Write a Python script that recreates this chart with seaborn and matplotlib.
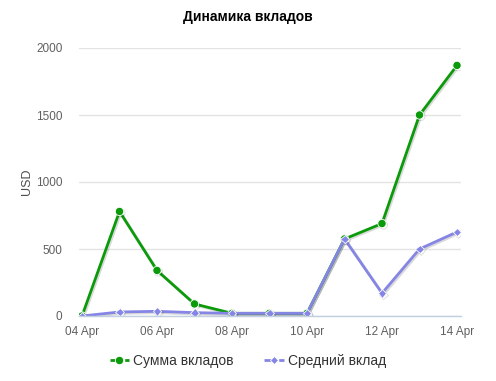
import numpy as np
import pandas as pd
import matplotlib
matplotlib.use('Agg')
import matplotlib.pyplot as plt
import matplotlib.dates as mdates
import matplotlib.patheffects as pe
from matplotlib.lines import Line2D
import seaborn as sns

# data
dates = ['2015-04-04', '2015-04-05', '2015-04-06', '2015-04-07', '2015-04-08',
         '2015-04-09', '2015-04-10', '2015-04-11', '2015-04-12', '2015-04-13',
         '2015-04-14']
total_deposits = [0, 780, 340, 90, 20, 20, 20, 575, 690, 1500, 1870]
avg_deposit = [0, 30, 35, 25, 20, 20, 20, 575, 170, 500, 627]
series_names = ['Сумма вкладов', 'Средний вклад']
series_colors = ['#0a9a0a', '#8585e6']
series_markers = ['o', 'D']
marker_sizes = [6, 4.5]
y_ticks = [0, 500, 1000, 1500, 2000]

df = pd.DataFrame({
    'date': pd.to_datetime(dates * 2),
    'value': total_deposits + avg_deposit,
    'series': [series_names[0]] * len(dates) + [series_names[1]] * len(dates),
})

sns.set_theme(style='white')
plt.rcParams['font.family'] = ['Liberation Sans', 'DejaVu Sans']

fig = plt.figure(figsize=(4.96, 3.81), dpi=100)
ax = fig.add_axes([79 / 496, 1 - 316 / 381, (461 - 79) / 496, (316 - 48) / 381])

shadow = [pe.SimpleLineShadow(offset=(1, -1), alpha=0.15, shadow_color='black'), pe.Normal()]
for name, color, marker, ms in zip(series_names, series_colors, series_markers, marker_sizes):
    sub = df[df['series'] == name]
    sns.lineplot(data=sub, x='date', y='value', ax=ax, color=color, linewidth=2,
                 marker=marker, markersize=ms,
                 markeredgecolor='white', markeredgewidth=0.6,
                 path_effects=shadow, legend=False)

d0 = mdates.date2num(pd.to_datetime(dates[0]))
d1 = mdates.date2num(pd.to_datetime(dates[-1]))
ax.set_xlim(d0 - 3 / 37.5, d1 + 4 / 37.5)
ax.set_ylim(0, 2000)
ax.set_yticks(y_ticks)
ax.set_yticklabels([str(t) for t in y_ticks])
ax.set_xticks(pd.to_datetime(dates[::2]))
ax.xaxis.set_major_formatter(mdates.DateFormatter('%d %b'))

ax.grid(axis='y', color='#e3e3e3', linewidth=1)
ax.grid(axis='x', visible=False)
for side in ['top', 'right', 'left']:
    ax.spines[side].set_visible(False)
ax.spines['bottom'].set_color('#c0d0e0')
ax.spines['bottom'].set_linewidth(1)
ax.tick_params(axis='x', colors='#606060', labelsize=8.5, length=6, width=1,
               direction='out', pad=1, color='#c0d0e0')
ax.tick_params(axis='y', colors='#606060', labelsize=8.5, length=0, pad=12)
for lbl in ax.get_xticklabels() + ax.get_yticklabels():
    lbl.set_color('#606060')

ax.set_xlabel('')
ax.set_ylabel('USD', color='#4d4d4d', fontsize=9)
ax.yaxis.set_label_coords(-0.12, 0.5)

fig.text(248 / 496, 1 - 17 / 381, 'Динамика вкладов', ha='center', va='center',
         fontsize=10, fontweight='bold', color='black')

handles = [Line2D([], [], color=c, linestyle='--', linewidth=2, marker=m,
                  markersize=ms, markeredgecolor='white', markeredgewidth=0.6)
           for c, m, ms in zip(series_colors, series_markers, marker_sizes)]
ax.legend(handles, series_names,
          loc='center', bbox_to_anchor=(0.5, 1 - 361 / 381),
          bbox_transform=fig.transFigure, ncol=2, frameon=False,
          fontsize=10, handlelength=1.4, handletextpad=0.3, columnspacing=2.2,
          labelcolor='#333333')

fig.savefig('out.png', dpi=100)
